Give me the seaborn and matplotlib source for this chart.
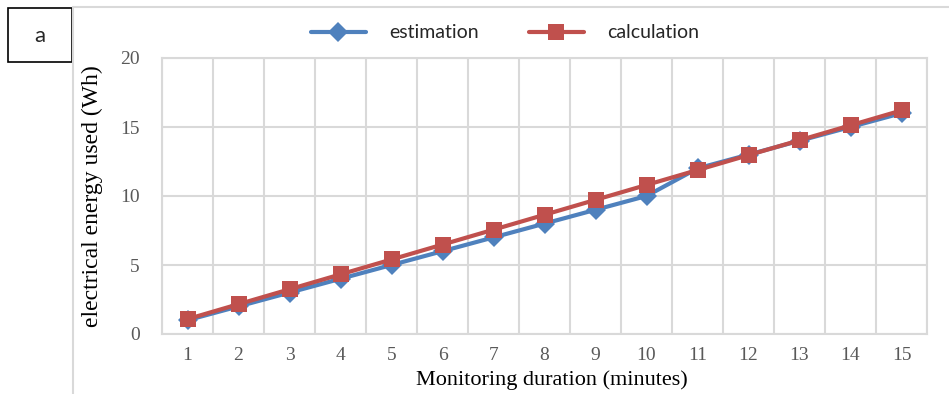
import matplotlib
matplotlib.use("Agg")
import matplotlib.pyplot as plt
from matplotlib.lines import Line2D
from matplotlib.patches import Rectangle
import seaborn as sns
import pandas as pd

minutes = [1, 2, 3, 4, 5, 6, 7, 8, 9, 10, 11, 12, 13, 14, 15]
estimation = [1, 2, 3, 4, 5, 6, 7, 8, 9, 10, 12, 13, 14, 15, 16]
calculation = [1.08, 2.16, 3.24, 4.32, 5.4, 6.48, 7.56, 8.64, 9.72, 10.8,
               11.88, 12.96, 14.04, 15.12, 16.2]
series_names = ["estimation", "calculation"]
y_ticks = [0, 5, 10, 15, 20]

df = pd.DataFrame({
    "minute": minutes * 2,
    "energy": estimation + calculation,
    "series": [series_names[0]] * len(minutes) + [series_names[1]] * len(minutes),
})

sns.set_style("white")
plt.rcParams['font.family'] = ['Liberation Serif', 'DejaVu Serif']

W, H = 949, 394
fig = plt.figure(figsize=(W / 100, H / 100), dpi=100)
ax = fig.add_axes([162 / W, (H - 334) / H, 765 / W, 276 / H])

grid_c = "#D9D9D9"
colors = {"estimation": "#4F81BD", "calculation": "#C0504D"}
lw = 3.0

sns.lineplot(data=df, x="minute", y="energy", hue="series", style="series",
             palette=colors, markers={"estimation": "D", "calculation": "s"},
             dashes=False, linewidth=lw, markersize=11, markeredgewidth=0,
             ax=ax, legend=False)
# diamond a bit smaller than the square
ax.lines[0].set_markersize(10)

ax.set_xlim(0.5, 15.5)
ax.set_ylim(0, 20)
ax.set_xticks(minutes)
ax.set_xticklabels([str(m) for m in minutes])
ax.set_xticks([m + 0.5 for m in [0] + minutes], minor=True)
ax.set_yticks(y_ticks)
ax.grid(False)
ax.grid(True, which="minor", axis="x", color=grid_c, lw=1.5)
ax.grid(True, which="major", axis="y", color=grid_c, lw=1.5)
ax.set_axisbelow(True)
for s in ax.spines.values():
    s.set_visible(True)
    s.set_color(grid_c)
    s.set_linewidth(1.5)

ax.tick_params(axis="both", which="both", length=0, labelsize=14, labelcolor="#595959")
ax.tick_params(axis="y", pad=16)
ax.tick_params(axis="x", pad=9)

ax.set_xlabel("Monitoring duration (minutes)", fontsize=16, color="black")
ax.set_ylabel("electrical energy used (Wh)", fontsize=17, color="black")
ax.xaxis.set_label_coords(0.51, -0.13)
ax.yaxis.set_label_coords(-0.077, 0.5)

handles = [Line2D([], [], color=colors[n], lw=lw, marker=m, markersize=ms, markeredgewidth=0)
           for n, m, ms in zip(series_names, ["D", "s"], [10, 11])]
fig.legend(handles, series_names, loc="center", bbox_to_anchor=(505 / W, 1 - 33 / H),
           ncol=2, frameon=False, handlelength=2.8, handletextpad=1.2, columnspacing=2.6,
           prop={"family": "Lato", "size": 14})

# chart frame and panel label
fig.add_artist(Line2D([73 / W, 73 / W], [0, 1 - 7 / H], color=grid_c, lw=1.5))
fig.add_artist(Line2D([73 / W, 1], [1 - 7 / H, 1 - 7 / H], color=grid_c, lw=1.5))
fig.add_artist(Rectangle((8 / W, 1 - 62 / H), 64 / W, 54 / H, fill=False,
                         edgecolor="black", lw=1.2, transform=fig.transFigure))
fig.text(40 / W, 1 - 36 / H, "a", ha="center", va="center", fontsize=16, family="Lato")

fig.savefig("out.png", dpi=100)
